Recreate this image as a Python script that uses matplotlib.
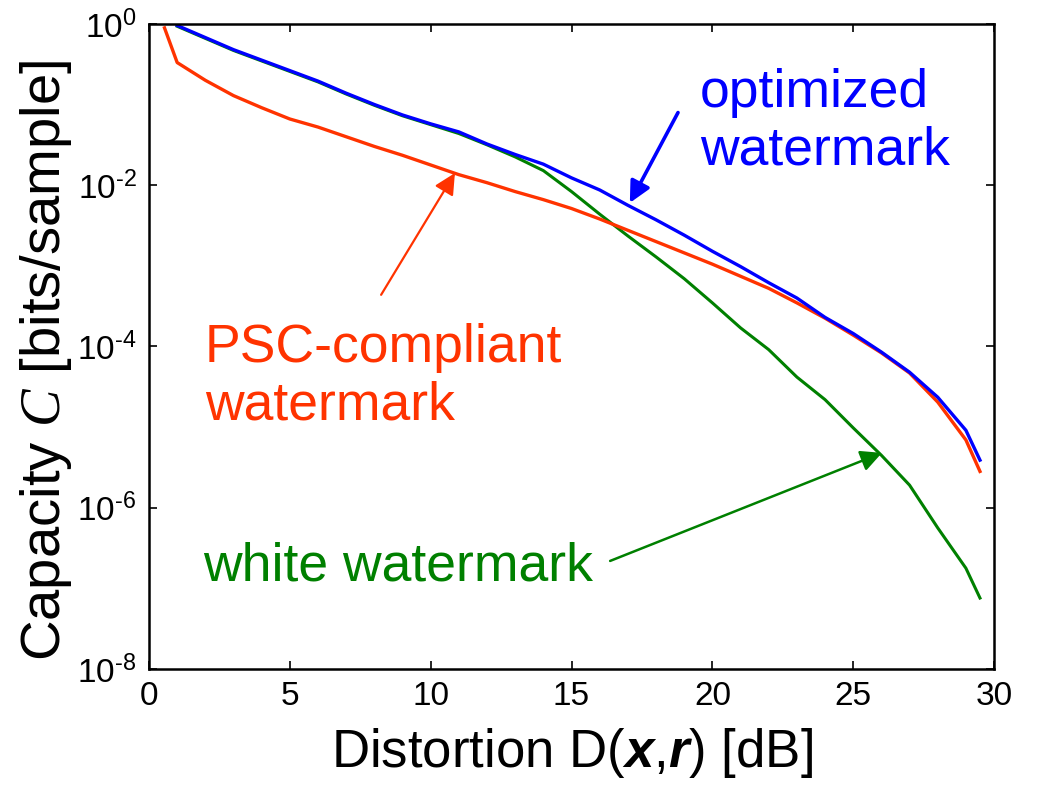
import numpy as np
import matplotlib
matplotlib.use("Agg")
import matplotlib.pyplot as plt

# distortion D [dB] and log10 of capacity
d_opt = [1, 2, 3, 4, 5, 6, 7, 8, 9, 10, 11, 12, 13, 14, 15, 16, 17, 18, 19, 20,
         21, 22, 23, 24, 25, 26, 27, 28, 29, 29.5]
logc_opt = [-0.02, -0.17, -0.32, -0.45, -0.58, -0.71, -0.86, -1.0, -1.13, -1.24,
            -1.34, -1.49, -1.62, -1.74, -1.91, -2.06, -2.25, -2.43, -2.62, -2.82,
            -3.01, -3.21, -3.40, -3.64, -3.84, -4.07, -4.32, -4.63, -5.04, -5.41]

d_psc = [0.55, 1, 2, 3, 4, 5, 6, 7, 8, 9, 10, 11, 12, 13, 14, 15, 16, 17, 18, 19,
         20, 21, 22, 23, 24, 25, 26, 27, 28, 29, 29.5]
logc_psc = [-0.05, -0.48, -0.70, -0.89, -1.04, -1.18, -1.28, -1.40, -1.52, -1.63,
            -1.75, -1.87, -1.97, -2.08, -2.18, -2.29, -2.42, -2.56, -2.70, -2.84,
            -2.98, -3.13, -3.28, -3.46, -3.65, -3.86, -4.08, -4.33, -4.69, -5.16, -5.55]

d_white = [1, 2, 3, 4, 5, 6, 7, 8, 9, 10, 11, 12, 13, 14, 15, 16, 17, 18, 19, 20,
           21, 22, 23, 24, 25, 26, 27, 28, 29, 29.5]
logc_white = [-0.03, -0.18, -0.33, -0.46, -0.59, -0.72, -0.87, -1.01, -1.14, -1.25,
              -1.36, -1.50, -1.65, -1.82, -2.08, -2.36, -2.63, -2.89, -3.16, -3.46,
              -3.77, -4.04, -4.38, -4.66, -5.01, -5.35, -5.72, -6.25, -6.75, -7.12]

x_ticks = [0, 5, 10, 15, 20, 25, 30]
y_exps = [0, -2, -4, -6, -8]

blue = "#0000ff"
red = "#ff3300"
green = "#008000"

plt.rcParams["font.family"] = ["Liberation Sans", "DejaVu Sans"]
plt.rcParams["mathtext.fontset"] = "custom"
plt.rcParams["mathtext.rm"] = "Liberation Sans"
plt.rcParams["mathtext.it"] = "Liberation Serif:italic"
plt.rcParams["mathtext.bf"] = "Liberation Sans:italic:bold"

fig = plt.figure(figsize=(10.42, 7.95), dpi=100)
ax = fig.add_axes([0.143, 0.1585, 0.811, 0.8115])

ax.plot(d_white, 10.0 ** np.array(logc_white), color=green, lw=2.2)
ax.plot(d_psc, 10.0 ** np.array(logc_psc), color=red, lw=2.4)
ax.plot(d_opt, 10.0 ** np.array(logc_opt), color=blue, lw=2.4)

ax.set_yscale("log")
ax.set_xlim(0, 30)
ax.set_ylim(1e-8, 1)
ax.set_xticks(x_ticks)
ax.set_xticklabels([str(t) for t in x_ticks])
ax.set_yticks([10.0 ** e for e in y_exps])
ax.set_yticklabels([r"$\mathregular{10^{\text{%d}}}$" % e for e in y_exps])
ax.minorticks_off()
ax.tick_params(direction="in", length=6, width=1.2, top=True, right=True,
               labelsize=24, pad=9)
for s in ax.spines.values():
    s.set_linewidth(1.8)

ax.set_xlabel(r"Distortion D($\mathbf{x}$,$\mathbf{r}$) [dB]", fontsize=38, labelpad=10)
ax.set_ylabel(r"Capacity $\mathit{C}$ [bits/sample]", fontsize=40.5)
ax.yaxis.set_label_coords(-0.089, 0.478)

arrow_kw = dict(arrowstyle="-|>", mutation_scale=32, shrinkA=0, shrinkB=0)
ax.annotate("", xy=(17.07, 10 ** -2.22), xytext=(18.78, 10 ** -1.10),
            arrowprops=dict(color=blue, lw=2.6, **arrow_kw))
ax.annotate("", xy=(10.86, 10 ** -1.85), xytext=(8.24, 10 ** -3.36),
            arrowprops=dict(color=red, lw=1.6, **arrow_kw))
ax.annotate("", xy=(26.02, 10 ** -5.32), xytext=(16.37, 10 ** -6.66),
            arrowprops=dict(color=green, lw=1.8, **arrow_kw))

# va="baseline" puts the last line of a two-line text on the given y
ax.text(19.56, 10 ** -1.75, "optimized\nwatermark", color=blue, fontsize=38.5,
        ha="left", va="baseline", linespacing=1.2)
ax.text(1.99, 10 ** -4.91, "PSC-compliant\nwatermark", color=red, fontsize=38.5,
        ha="left", va="baseline", linespacing=1.2)
ax.text(1.92, 10 ** -6.90, "white watermark", color=green, fontsize=38.5,
        ha="left", va="baseline")

fig.savefig("out.png", dpi=100)
